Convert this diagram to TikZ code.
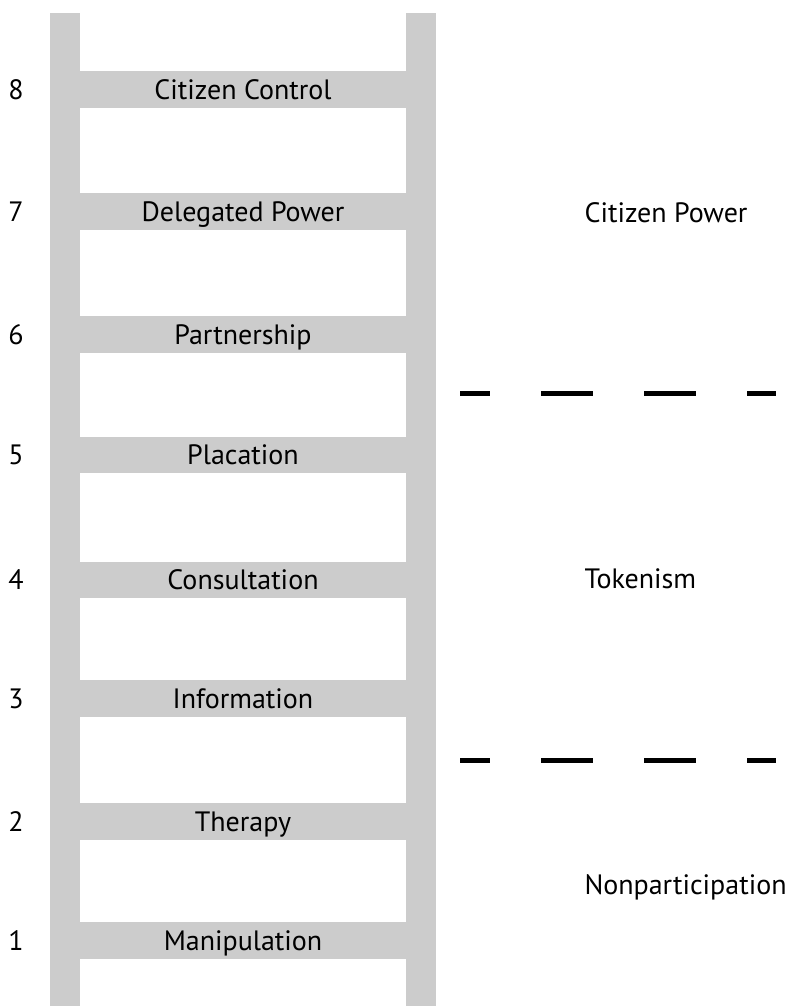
\documentclass[tikz,border=0pt]{standalone}
\usepackage{fontspec}
\setmainfont{PT Sans}
\definecolor{railgray}{HTML}{CCCCCC}
\begin{document}
\begin{tikzpicture}[x=1pt,y=-1pt,
  rail/.style={fill=railgray,draw=none},
  rung/.style={fill=railgray,draw=none,minimum width=326pt,minimum height=36.5pt,inner sep=0pt},
  rungtext/.style={font=\fontsize{28}{28}\selectfont,anchor=base},
  numtext/.style={font=\fontsize{28}{28}\selectfont,anchor=base},
  sidetext/.style={font=\fontsize{28}{28}\selectfont,anchor=base west},
  divider/.style={line width=5pt,dash pattern=on 52pt off 51pt,dash phase=22pt}]
\useasboundingbox (0,0) rectangle (791,1006);
\fill[white] (0,0) rectangle (791,1006);
% rails
\node[rail,minimum width=30pt,minimum height=993pt,inner sep=0pt,anchor=north west] (lrail) at (50,13) {};
\node[rail,minimum width=30pt,minimum height=993pt,inner sep=0pt,anchor=north west] (rrail) at (406,13) {};
% rungs
\foreach \i/\yt/\lab in {8/71/Citizen Control,7/193/Delegated Power,6/316/Partnership,5/436.5/Placation,4/561.5/Consultation,3/680/Information,2/803/Therapy,1/922/Manipulation}{
  \node[rung,anchor=north west] (r\i) at (80,\yt) {};
  \node[rungtext] (t\i) at (243,\yt+28.3) {\lab};
  \node[numtext] (n\i) at (16,\yt+28.3) {\i};
}
% side labels
\node[sidetext] (cp) at (581,222) {Citizen Power};
\node[sidetext] (tk) at (581,588) {Tokenism};
\node[sidetext] (np) at (581,894) {Nonparticipation};
% dividers
\coordinate (d1a) at (460,393);
\coordinate (d1b) at (776,393);
\coordinate (d2a) at (460,760);
\coordinate (d2b) at (776,760);
\draw[divider] (d1a) -- (d1b);
\draw[divider] (d2a) -- (d2b);
\end{tikzpicture}
\end{document}
